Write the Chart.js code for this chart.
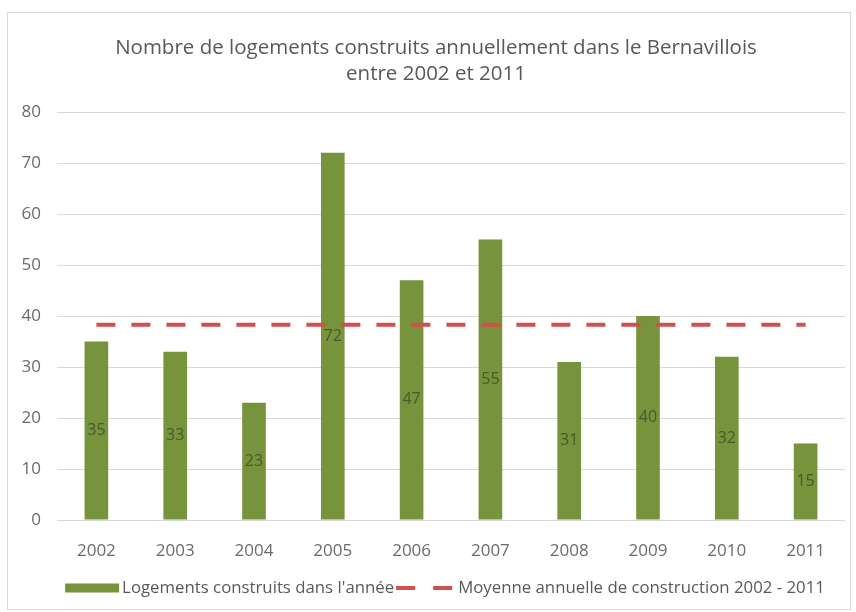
<!DOCTYPE html>
<html lang="fr">
<head>
<meta charset="utf-8">
<script src="https://cdn.jsdelivr.net/npm/chart.js@4/dist/chart.umd.min.js"></script>
<style>
html, body { margin: 0; background: #fff; }
#cadre { position: absolute; left: 7px; top: 12px; width: 842px; height: 596px; border: 1px solid #d9d9d9; }
canvas { display: block; }
</style>
</head>
<body>
<div id="cadre"><canvas id="graphique" width="842" height="596"></canvas></div>
<script>
// --- Données ---
const annees = ['2002', '2003', '2004', '2005', '2006', '2007', '2008', '2009', '2010', '2011'];
const logements = [35, 33, 23, 72, 47, 55, 31, 40, 32, 15];
const moyenne = [38.3, 38.3, 38.3, 38.3, 38.3, 38.3, 38.3, 38.3, 38.3, 38.3];
const titre = ['Nombre de logements construits annuellement dans le Bernavillois', 'entre 2002 et 2011'];
const libelleBarres = "Logements construits dans l'année";
const libelleMoyenne = 'Moyenne annuelle de construction 2002 - 2011';

const VERT = '#77933c';
const ROUGE = '#d24f4f';
const POLICE = "'Open Sans', sans-serif";

// valeurs au milieu des barres (dataset 1 = barres)
const etiquettesBarres = {
    id: 'etiquettesBarres',
    afterDatasetsDraw(chart) {
        const ctx = chart.ctx;
        const meta = chart.getDatasetMeta(1);
        ctx.save();
        ctx.font = '16px ' + POLICE;
        ctx.fillStyle = '#4a5a2a';
        ctx.textAlign = 'center';
        ctx.textBaseline = 'middle';
        meta.data.forEach((bar, i) => {
            ctx.fillText(String(logements[i]), bar.x, (bar.y + bar.base) / 2);
        });
        ctx.restore();
    }
};

// titre un peu décalé vers la droite, comme dans l'original
const decalageTitre = {
    id: 'decalageTitre',
    afterLayout(chart) {
        if (chart.titleBlock) chart.titleBlock.left += 19;
    }
};

// légende dessinée à la main (barre pleine + trait pointillé)
const legendeBas = {
    id: 'legendeBas',
    afterDraw(chart) {
        const ctx = chart.ctx;
        const y = 575;
        ctx.save();
        ctx.font = '16.8px ' + POLICE;
        ctx.textBaseline = 'middle';
        const w1 = ctx.measureText(libelleBarres).width;
        const w2 = ctx.measureText(libelleMoyenne).width;
        const total = 54 + 3 + w1 + 2 + 57 + 5 + w2;
        let x = (chart.chartArea.left + chart.chartArea.right) / 2 - total / 2 - 6;
        ctx.fillStyle = VERT;
        ctx.fillRect(x, y - 4.5, 54, 9);
        x += 57;
        ctx.fillStyle = '#595959';
        ctx.fillText(libelleBarres, x, y);
        x += w1 + 2;
        ctx.strokeStyle = ROUGE;
        ctx.lineWidth = 4;
        ctx.setLineDash([19, 18]);
        ctx.beginPath();
        ctx.moveTo(x, y);
        ctx.lineTo(x + 57, y);
        ctx.stroke();
        ctx.setLineDash([]);
        x += 62;
        ctx.fillText(libelleMoyenne, x, y);
        ctx.restore();
    }
};

new Chart(document.getElementById('graphique'), {
    data: {
        labels: annees,
        datasets: [{
            type: 'line',
            label: libelleMoyenne,
            data: moyenne,
            borderColor: ROUGE,
            borderWidth: 4,
            borderDash: [19, 16],
            pointRadius: 0,
            fill: false,
            order: 0
        }, {
            type: 'bar',
            label: libelleBarres,
            data: logements,
            backgroundColor: VERT,
            barPercentage: 0.3,
            categoryPercentage: 1,
            order: 1
        }]
    },
    options: {
        responsive: false,
        animation: false,
        layout: { padding: { left: 0, right: 5, top: 0, bottom: 49 } },
        plugins: {
            legend: { display: false },
            tooltip: { enabled: false },
            title: {
                display: true,
                text: titre,
                color: '#595959',
                font: { family: POLICE, size: 20.5, weight: 'normal', lineHeight: '26px' },
                padding: { top: 22, bottom: 25 }
            }
        },
        scales: {
            x: {
                grid: { display: false },
                border: { display: false },
                ticks: { color: '#6b6b6b', font: { family: POLICE, size: 17 }, padding: 13 },
                afterFit(scale) { scale.height = 40; }
            },
            y: {
                min: 0,
                max: 80,
                ticks: { stepSize: 10, color: '#6b6b6b', font: { family: POLICE, size: 17 }, padding: 16 },
                grid: { color: '#d9d9d9', drawTicks: false },
                border: { display: false },
                afterFit(scale) { scale.width = 49; }
            }
        }
    },
    plugins: [etiquettesBarres, decalageTitre, legendeBas]
});
</script>
</body>
</html>
